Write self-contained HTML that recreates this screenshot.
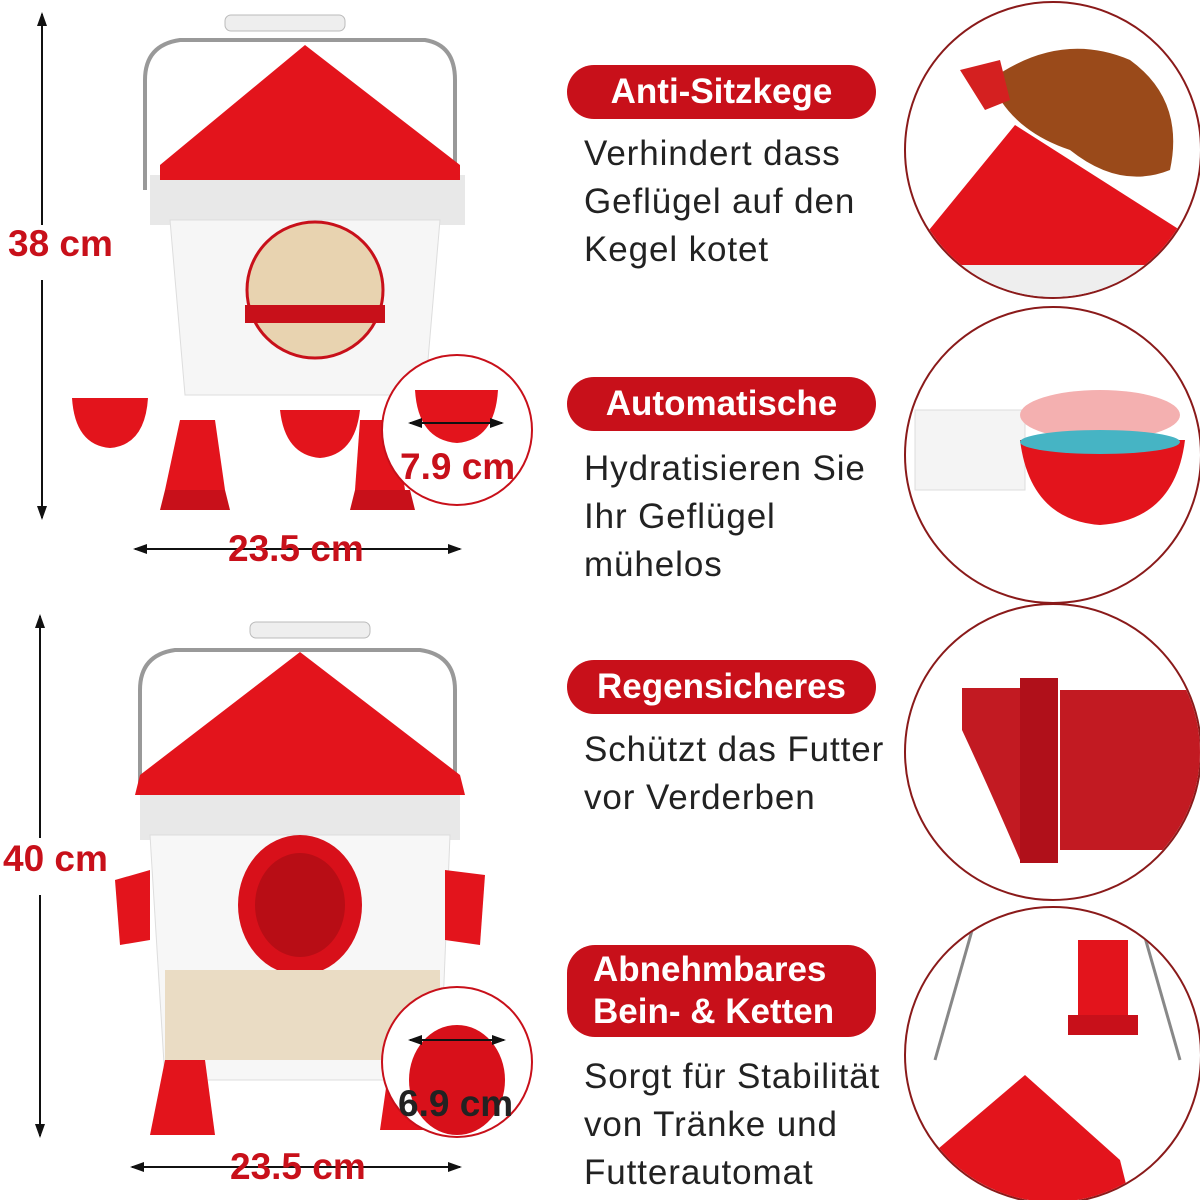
<!DOCTYPE html>
<html><head><meta charset="utf-8"><style>
html,body{margin:0;padding:0;background:#fff;}
body{width:1200px;height:1200px;position:relative;overflow:hidden;font-family:"Liberation Sans",sans-serif;}
.pill{position:absolute;left:567px;width:309px;background:#c8101a;color:#fff;font-weight:bold;font-size:35px;border-radius:28px;text-align:center;line-height:54px;}
.desc{position:absolute;left:584px;font-size:35px;color:#222;line-height:48px;letter-spacing:0.9px;}
.dim{position:absolute;font-weight:bold;color:#c8101a;font-size:37px;}
</style></head><body>
<svg width="1200" height="1200" style="position:absolute;left:0;top:0">
<defs>
<marker id="a" markerUnits="userSpaceOnUse" markerWidth="14" markerHeight="12" refX="12" refY="6" orient="auto-start-reverse"><path d="M0,1 L14,6 L0,11 Z" fill="#111"/></marker>
</defs>
<line x1="42" y1="14" x2="42" y2="225" stroke="#111" stroke-width="2" marker-start="url(#a)"/>
<line x1="42" y1="280" x2="42" y2="518" stroke="#111" stroke-width="2" marker-end="url(#a)"/>
<line x1="135" y1="549" x2="460" y2="549" stroke="#111" stroke-width="2" marker-start="url(#a)" marker-end="url(#a)"/>
<line x1="40" y1="616" x2="40" y2="838" stroke="#111" stroke-width="2" marker-start="url(#a)"/>
<line x1="40" y1="895" x2="40" y2="1136" stroke="#111" stroke-width="2" marker-end="url(#a)"/>
<line x1="132" y1="1167" x2="460" y2="1167" stroke="#111" stroke-width="2" marker-start="url(#a)" marker-end="url(#a)"/>

<path d="M145,190 L145,80 Q145,45 180,40 L425,40 Q455,45 455,80 L455,190" fill="none" stroke="#999" stroke-width="4"/>
<rect x="225" y="15" width="120" height="16" rx="6" fill="#eee" stroke="#bbb"/>
<rect x="150" y="175" width="315" height="50" fill="#e8e8e8"/>
<path d="M170,220 L440,220 L425,395 L185,395 Z" fill="#f6f6f6" stroke="#ddd"/>
<path d="M305,45 L160,165 L160,180 L460,180 L460,165 Z" fill="#e3141c"/>
<circle cx="315" cy="290" r="68" fill="#e8d3b0" stroke="#c8101a" stroke-width="3"/>
<rect x="245" y="305" width="140" height="18" fill="#c8101a"/>
<path d="M72,398 L148,398 Q145,445 110,448 Q75,445 72,398 Z" fill="#e3141c"/>
<path d="M280,410 L360,410 Q355,455 320,458 Q285,455 280,410 Z" fill="#e3141c"/>
<path d="M180,420 L215,420 L225,490 L165,490 Z" fill="#e3141c"/>
<path d="M360,420 L395,420 L405,490 L355,490 Z" fill="#e3141c"/>
<path d="M165,490 L225,490 L230,510 L160,510 Z" fill="#c8101a"/>
<path d="M355,490 L410,490 L415,510 L350,510 Z" fill="#c8101a"/>
<circle cx="457" cy="430" r="75" fill="#fff" stroke="#c8101a" stroke-width="2"/>
<path d="M415,390 L498,390 Q495,440 457,443 Q418,440 415,390 Z" fill="#e3141c"/>
<line x1="410" y1="423" x2="502" y2="423" stroke="#111" stroke-width="2" marker-start="url(#a)" marker-end="url(#a)"/>

<path d="M140,795 L140,690 Q140,655 175,650 L420,650 Q455,655 455,690 L455,795" fill="none" stroke="#999" stroke-width="4"/>
<rect x="250" y="622" width="120" height="16" rx="6" fill="#eee" stroke="#bbb"/>
<rect x="140" y="785" width="320" height="55" fill="#e8e8e8"/>
<path d="M150,835 L450,835 L440,1080 L165,1080 Z" fill="#f7f7f7" stroke="#ddd"/>
<path d="M300,652 L140,775 L135,795 L465,795 L460,775 Z" fill="#e3141c"/>
<ellipse cx="300" cy="905" rx="62" ry="70" fill="#d8101a"/>
<ellipse cx="300" cy="905" rx="45" ry="52" fill="#b80d15"/>
<path d="M115,880 L150,870 L150,940 L120,945 Z" fill="#e3141c"/>
<path d="M445,870 L485,875 L480,945 L445,940 Z" fill="#e3141c"/>
<rect x="165" y="970" width="275" height="90" fill="#eadcc4"/>
<path d="M165,1060 L205,1060 L215,1135 L150,1135 Z" fill="#e3141c"/>
<path d="M390,1060 L430,1060 L440,1130 L380,1130 Z" fill="#e3141c"/>
<circle cx="457" cy="1062" r="75" fill="#fff" stroke="#c8101a" stroke-width="2"/>
<ellipse cx="457" cy="1080" rx="48" ry="55" fill="#d8101a"/>
<line x1="410" y1="1040" x2="504" y2="1040" stroke="#111" stroke-width="2" marker-start="url(#a)" marker-end="url(#a)"/>

<g stroke="#8a1a1a" stroke-width="2" fill="#fff">
<circle cx="1053" cy="150" r="148"/>
<circle cx="1053" cy="455" r="148"/>
<circle cx="1053" cy="752" r="148"/>
<circle cx="1053" cy="1055" r="148"/>
</g>
<clipPath id="c1"><circle cx="1053" cy="150" r="147"/></clipPath>
<g clip-path="url(#c1)">
<path d="M1015,125 L925,235 L930,270 L1180,270 L1180,230 Z" fill="#e3141c"/>
<rect x="925" y="265" width="260" height="35" fill="#eee"/>
<path d="M990,80 Q1060,30 1130,60 Q1185,100 1170,170 Q1120,190 1070,150 Q1010,130 990,80 Z" fill="#9a4a1a"/>
<path d="M960,70 L1000,60 L1010,100 L985,110 Z" fill="#d42020"/>
</g>
<clipPath id="c2"><circle cx="1053" cy="455" r="147"/></clipPath>
<g clip-path="url(#c2)">
<rect x="915" y="410" width="110" height="80" fill="#f4f4f4" stroke="#ddd"/>
<ellipse cx="1100" cy="415" rx="80" ry="25" fill="#f4b0b0"/>
<path d="M1020,440 L1185,440 Q1175,520 1100,525 Q1030,520 1020,440 Z" fill="#e3141c"/>
<ellipse cx="1100" cy="442" rx="80" ry="12" fill="#46b4c4"/>
</g>
<clipPath id="c3"><circle cx="1053" cy="752" r="147"/></clipPath>
<g clip-path="url(#c3)">
<path d="M962,688 L1030,688 L1030,860 L1020,860 Q990,790 962,730 Z" fill="#c21a22"/>
<rect x="1020" y="678" width="38" height="185" fill="#b0101a"/>
<rect x="1060" y="690" width="140" height="160" fill="#c21a22"/>
</g>
<clipPath id="c4"><circle cx="1053" cy="1055" r="147"/></clipPath>
<g clip-path="url(#c4)">
<line x1="975" y1="920" x2="935" y2="1060" stroke="#888" stroke-width="3"/>
<line x1="1140" y1="920" x2="1180" y2="1060" stroke="#888" stroke-width="3"/>
<rect x="1078" y="940" width="50" height="80" fill="#e3141c"/>
<rect x="1068" y="1015" width="70" height="20" fill="#c8101a"/>
<path d="M1025,1075 L925,1160 L930,1200 L1130,1200 L1120,1160 Z" fill="#e3141c"/>
</g>
</svg>

<div class="dim" style="left:8px;top:223px">38 cm</div>
<div class="dim" style="left:228px;top:528px">23.5 cm</div>
<div class="dim" style="left:400px;top:446px">7.9 cm</div>
<div class="dim" style="left:3px;top:838px">40 cm</div>
<div class="dim" style="left:230px;top:1146px">23.5 cm</div>
<div class="dim" style="left:398px;top:1083px;color:#222">6.9 cm</div>

<div class="pill" style="top:65px">Anti-Sitzkege</div>
<div class="desc" style="top:130px">Verhindert dass<br>Geflügel auf den<br>Kegel kotet</div>
<div class="pill" style="top:377px">Automatische</div>
<div class="desc" style="top:445px">Hydratisieren Sie<br>Ihr Geflügel<br>mühelos</div>
<div class="pill" style="top:660px">Regensicheres</div>
<div class="desc" style="top:726px">Schützt das Futter<br>vor Verderben</div>
<div class="pill" style="top:945px;line-height:42px;padding:4px 0;text-align:left;padding-left:26px;width:283px">Abnehmbares<br>Bein- &amp; Ketten</div>
<div class="desc" style="top:1053px">Sorgt für Stabilität<br>von Tränke und<br>Futterautomat</div>
</body></html>
